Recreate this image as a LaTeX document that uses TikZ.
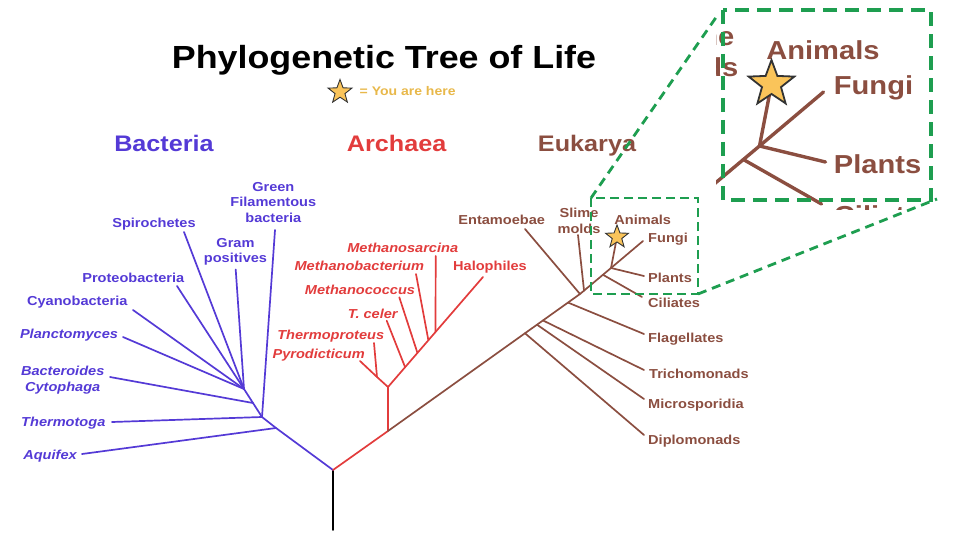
\documentclass[tikz,border=0pt]{standalone}
\usepackage{fontspec}
\setmainfont{Liberation Sans}[FakeStretch=1.12]
\usetikzlibrary{shapes.geometric,calc}
\definecolor{bblue}{RGB}{84,58,214}
\definecolor{ared}{RGB}{226,60,60}
\definecolor{ebrown}{RGB}{139,78,64}
\definecolor{gdash}{RGB}{30,158,80}
\definecolor{starfill}{RGB}{250,196,90}
\definecolor{hereclr}{RGB}{232,184,74}
\tikzset{
 lbl/.style={font=\fontsize{13}{15.5}\selectfont\bfseries, inner sep=0pt, align=center},
 ilbl/.style={font=\fontsize{13}{15.5}\selectfont\bfseries\itshape, inner sep=0pt, align=center},
 bl/.style={anchor=base, yshift=-4.7pt},
 bw/.style={anchor=base west, yshift=-4.7pt},
 branch/.style={line width=1.7pt, line cap=round, line join=round},
 blu/.style={branch, draw=bblue},
 redb/.style={branch, draw=ared},
 brn/.style={branch, draw=ebrown},
 hdr/.style={font=\fontsize{22.5}{26}\selectfont\bfseries, inner sep=0pt, anchor=base},
 ystar/.style={star, star points=5, star point ratio=2.4, minimum size=#1, inner sep=0pt, fill=starfill, draw=black!80, line width=0.9pt},
 smallbox/.style={draw=gdash, line width=2.8pt, dash pattern=on 9pt off 5pt},
 bigbox/.style={draw=gdash, line width=3.6pt, dash pattern=on 14pt off 8pt},
 conn/.style={draw=gdash, line width=2.8pt, dash pattern=on 9pt off 6pt},
}
% upper part of the Eukarya subtree (also shown magnified in the inset)
\newcommand\euktop[1]{%
 \coordinate (#1A) at (388,431);
 \coordinate (#1K) at (580,294);
 \coordinate (#1J) at (611,268);
 \coordinate (#1st) at (617,237);
 \draw[brn] (#1A) -- (#1K) -- (#1J);
 \coordinate (#1sliJ) at ($(#1K)!0.13!(#1J)$);
 \coordinate (#1cilJ) at ($(#1K)!0.74!(#1J)$);
 \coordinate (#1sliT) at (578,235);
 \coordinate (#1cilT) at (642,297);
 \coordinate (#1funT) at (643,241);
 \coordinate (#1plaT) at (644,276);
 \draw[brn] (#1sliJ) -- (#1sliT);
 \draw[brn] (#1cilJ) -- (#1cilT);
 \draw[brn] (#1J) -- (#1funT);
 \draw[brn] (#1J) -- (#1plaT);
 \draw[brn] (#1J) -- (#1st);
 \node[ystar=24pt] (#1star) at (#1st) {};
 \node[lbl,bw,text=ebrown] (#1cil) at (648,302.7) {Ciliates};
 \node[lbl,bw,text=ebrown] (#1pla) at (648,277.3) {Plants};
 \node[lbl,bw,text=ebrown] (#1fun) at (648,237.7) {Fungi};
 \node[lbl,bl,text=ebrown] (#1ani) at (642.7,220) {Animals};
 \node[lbl,text=ebrown] (#1sli) at (579,221) {Slime\\molds};
}
\begin{document}
\begin{tikzpicture}[x=1pt,y=-1pt]
\useasboundingbox (0,0) rectangle (960,540);
% title
\node[font=\fontsize{32}{36}\selectfont\bfseries, anchor=base, inner sep=0pt] (title) at (384,69) {Phylogenetic Tree of Life};
\node[ystar=25pt] (legstar) at (340,92) {};
\node[font=\fontsize{12.5}{14}\selectfont\bfseries, text=hereclr, anchor=base west, inner sep=0pt] (here) at (359.5,95.7) {= You are here};
% headers
\node[hdr, text=bblue] (hbac) at (164,152) {Bacteria};
\node[hdr, text=ared] (harc) at (396.7,152) {Archaea};
\node[hdr, text=ebrown] (heuk) at (587,152) {Eukarya};
% trunk
\coordinate (root) at (333,470);
\coordinate (base) at (333,530);
\draw[branch, draw=black] (root) -- (base);
% ---------------- Bacteria
\coordinate (bD) at (276,428);
\coordinate (bE) at (262,417);
\coordinate (bG) at (244,389);
\coordinate (bF) at ($(bE)!0.5!(bG)$);
\draw[blu] (root) -- (bD) -- (bE) -- (bG);
\node[ilbl,bl,text=bblue] (aqu) at (50,454.3) {Aquifex};
\node[ilbl,bl,text=bblue] (thg) at (63.3,421.7) {Thermotoga};
\node[ilbl,text=bblue] (bcy) at (62.7,380) {Bacteroides\\Cytophaga};
\node[ilbl,bl,text=bblue] (pla) at (69,333.3) {Planctomyces};
\node[lbl,bl,text=bblue] (cya) at (77.3,301) {Cyanobacteria};
\node[lbl,bl,text=bblue] (pro) at (133.3,277.3) {Proteobacteria};
\node[lbl,bl,text=bblue] (spi) at (154,223) {Spirochetes};
\node[lbl,text=bblue] (grp) at (235.5,252) {Gram\\positives};
\node[lbl,text=bblue] (gfb) at (273.3,202.5) {Green\\Filamentous\\bacteria};
\coordinate (aquT) at (82,454);
\coordinate (thgT) at (112,422);
\coordinate (bcyT) at (110,377);
\coordinate (plaT) at (123,337);
\coordinate (cyaT) at (133,310);
\coordinate (proT) at (177,286);
\coordinate (spiT) at (184,232);
\coordinate (grpT) at (235.7,269.5);
\coordinate (gfbT) at (275,230);
\draw[blu] (bD) -- (aquT);
\draw[blu] (bE) -- (thgT);
\draw[blu] (bE) -- (gfbT);
\draw[blu] (bF) -- (bcyT);
\draw[blu] (bG) -- (plaT);
\draw[blu] (bG) -- (cyaT);
\draw[blu] (bG) -- (proT);
\draw[blu] (bG) -- (spiT);
\draw[blu] (bG) -- (grpT);
% ---------------- Archaea
\coordinate (aA) at (388,431);
\coordinate (aB) at (388,387);
\coordinate (aC) at (377,377);
\coordinate (aH) at (483,277);
\coordinate (pyrT) at (360,361);
\coordinate (thpT) at (374,343);
\draw[redb] (root) -- (aA) -- (aB) -- (aC) -- (pyrT);
\draw[redb] (aC) -- (thpT);
\draw[redb] (aB) -- (aH);
\coordinate (tceJ) at ($(aB)!0.18!(aH)$);
\coordinate (mcoJ) at ($(aB)!0.31!(aH)$);
\coordinate (mbaJ) at ($(aB)!0.425!(aH)$);
\coordinate (msaJ) at ($(aB)!0.50!(aH)$);
\coordinate (tceT) at (386.7,320.7);
\coordinate (mcoT) at (399.3,297.3);
\coordinate (mbaT) at (416,274);
\coordinate (msaT) at (435.7,256);
\draw[redb] (tceJ) -- (tceT);
\draw[redb] (mcoJ) -- (mcoT);
\draw[redb] (mbaJ) -- (mbaT);
\draw[redb] (msaJ) -- (msaT);
\node[ilbl,bl,text=ared] (msa) at (402.7,247.3) {Methanosarcina};
\node[ilbl,bl,text=ared] (mba) at (359.3,265.7) {Methanobacterium};
\node[ilbl,bl,text=ared] (mco) at (360,289.3) {Methanococcus};
\node[ilbl,bl,text=ared] (tce) at (372.7,313.3) {T. celer};
\node[ilbl,bl,text=ared] (thp) at (330.7,334.3) {Thermoproteus};
\node[ilbl,bl,text=ared] (pyr) at (318.7,354) {Pyrodicticum};
\node[lbl,bl,text=ared] (hal) at (490,265.7) {Halophiles};
% ---------------- Eukarya
\euktop{e}
\coordinate (dipJ) at ($(eA)!0.7135!(eK)$);
\coordinate (micJ) at ($(eA)!0.776!(eK)$);
\coordinate (triJ) at ($(eA)!0.807!(eK)$);
\coordinate (flaJ) at ($(eA)!0.9375!(eK)$);
\coordinate (dipT) at (644,435);
\coordinate (micT) at (644,399);
\coordinate (triT) at (644,370);
\coordinate (flaT) at (644,334);
\coordinate (entT) at (525,229);
\draw[brn] (dipJ) -- (dipT);
\draw[brn] (micJ) -- (micT);
\draw[brn] (triJ) -- (triT);
\draw[brn] (flaJ) -- (flaT);
\draw[brn] (eK) -- (entT);
\node[lbl,bw,text=ebrown] (dip) at (648,440) {Diplomonads};
\node[lbl,bw,text=ebrown] (mic) at (648,404) {Microsporidia};
\node[lbl,bw,text=ebrown] (tri) at (649,373.3) {Trichomonads};
\node[lbl,bw,text=ebrown] (fla) at (648,337.7) {Flagellates};
\node[lbl,bl,text=ebrown] (ent) at (501.7,220) {Entamoebae};
% ---------------- zoom inset
\begin{scope}
 \clip (716,14) rectangle (934,209);
 \begin{scope}[transform canvas={shift={(-462.5,-390)},scale=2}]
  \euktop{z}
 \end{scope}
\end{scope}
\coordinate (sb1) at (591,198);
\coordinate (sb2) at (698,294);
\coordinate (ib1) at (723,10);
\coordinate (ib2) at (931,200);
\coordinate (c1) at (717,16);
\coordinate (c2) at (937,199);
\draw[smallbox] (sb1) rectangle (sb2);
\draw[bigbox] (ib1) rectangle (ib2);
\draw[conn] (sb1) -- (c1);
\draw[conn] (sb2) -- (c2);
\end{tikzpicture}
\end{document}
